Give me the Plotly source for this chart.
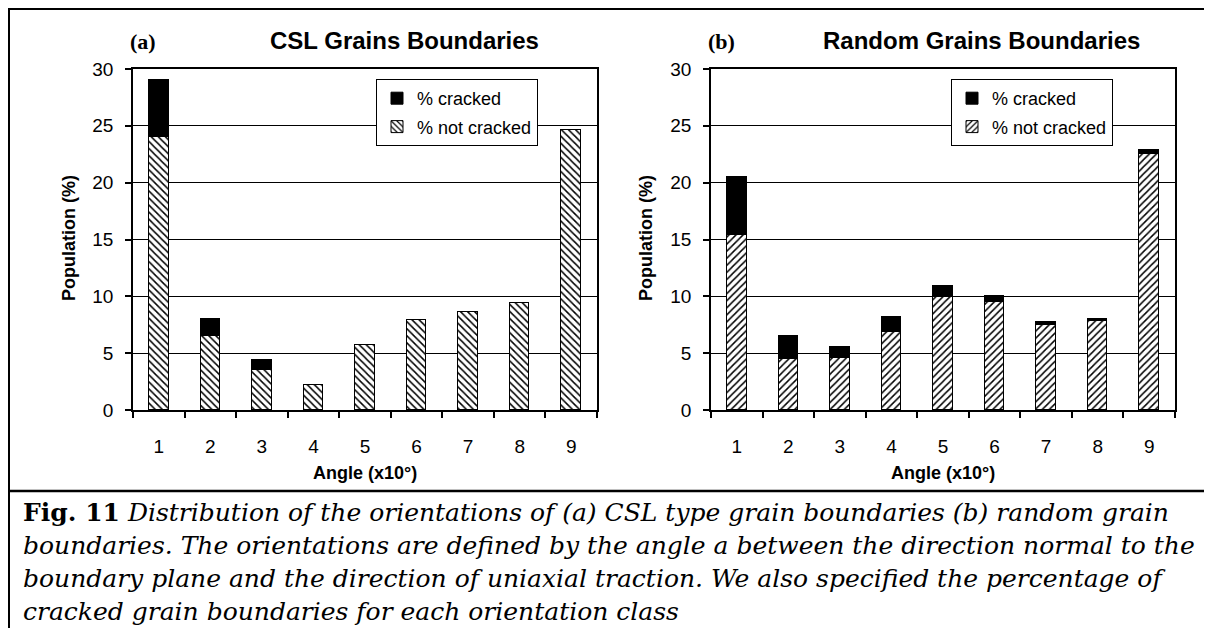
import plotly.graph_objects as go

# The page body has an 8px margin; the figure is sized so it fits the window exactly.
OFF = 8
W, H = 1212 - 2 * OFF, 636 - 2 * OFF

angles = [1, 2, 3, 4, 5, 6, 7, 8, 9]
tick_labels = ["1", "2", "3", "4", "5", "6", "7", "8", "9"]

csl_not_cracked = [24.0, 6.5, 3.5, 2.2, 5.7, 7.9, 8.6, 9.4, 24.6]
csl_cracked = [5.0, 1.5, 0.9, 0.0, 0.0, 0.0, 0.0, 0.0, 0.0]

rand_not_cracked = [15.4, 4.5, 4.6, 6.9, 9.9, 9.5, 7.5, 7.8, 22.5]
rand_cracked = [5.1, 2.0, 0.9, 1.3, 1.0, 0.5, 0.2, 0.2, 0.4]

y_ticks = [0, 5, 10, 15, 20, 25, 30]

def px(x):
    return (x - OFF) / W

def py(y):
    return 1 - (y - OFF) / H

SANS = "Liberation Sans, Arial, sans-serif"
SERIF = "Liberation Serif, Times New Roman, serif"
CAPTION = "DejaVu Serif, serif"

fig = go.Figure()

bar_w = 0.38
line = dict(color="black", width=1)

fig.add_trace(go.Bar(x=angles, y=csl_not_cracked, width=bar_w, name="% not cracked",
                     marker=dict(color="white", line=line,
                                 pattern=dict(shape="\\", fgcolor="black", bgcolor="white",
                                              size=5, solidity=0.3)),
                     xaxis="x", yaxis="y", legend="legend", legendgroup="a2", legendrank=2))
fig.add_trace(go.Bar(x=angles, y=csl_cracked, width=bar_w, name="% cracked",
                     marker=dict(color="black", line=line),
                     xaxis="x", yaxis="y", legend="legend", legendgroup="a1", legendrank=1))

fig.add_trace(go.Bar(x=angles, y=rand_not_cracked, width=bar_w, name="% not cracked",
                     marker=dict(color="white", line=line,
                                 pattern=dict(shape="/", fgcolor="black", bgcolor="white",
                                              size=5, solidity=0.3)),
                     xaxis="x2", yaxis="y2", legend="legend2", legendgroup="b2", legendrank=2))
fig.add_trace(go.Bar(x=angles, y=rand_cracked, width=bar_w, name="% cracked",
                     marker=dict(color="black", line=line),
                     xaxis="x2", yaxis="y2", legend="legend2", legendgroup="b1", legendrank=1))

def xaxis_cfg(x0, x1, anchor):
    return dict(domain=[px(x0), px(x1)], anchor=anchor, range=[0.5, 9.5],
                tickmode="array", tickvals=angles, ticktext=tick_labels,
                ticks="", ticklabelstandoff=18, automargin=False,
                tickfont=dict(family=SANS, size=19, color="black"),
                showline=True, linecolor="black", linewidth=1.5, mirror=True,
                showgrid=False, zeroline=False, fixedrange=True,
                minor=dict(tickmode="array", tickvals=[i + 0.5 for i in range(0, 10)],
                           ticks="outside", ticklen=6, tickwidth=1.5, tickcolor="black",
                           showgrid=False))

def yaxis_cfg(anchor):
    return dict(domain=[py(410), py(69)], anchor=anchor, range=[0, 30],
                tickmode="array", tickvals=y_ticks, automargin=False,
                ticks="outside", ticklen=6, tickwidth=1.5, tickcolor="black",
                ticklabelstandoff=8,
                tickfont=dict(family=SANS, size=19, color="black"),
                showline=True, linecolor="black", linewidth=1.5, mirror=True,
                showgrid=True, gridcolor="black", gridwidth=1,
                zeroline=False, fixedrange=True)

legend_common = dict(bgcolor="white", bordercolor="black", borderwidth=1,
                     font=dict(family=SANS, size=18, color="black"),
                     xanchor="left", yanchor="top", itemwidth=30,
                     tracegroupgap=2, traceorder="grouped")

fig.update_layout(
    template="none",
    width=W, height=H,
    margin=dict(l=0, r=0, t=0, b=0, pad=0, autoexpand=False),
    paper_bgcolor="white", plot_bgcolor="white",
    barmode="stack", bargap=0,
    xaxis=xaxis_cfg(133, 597, "y"),
    yaxis=yaxis_cfg("x"),
    xaxis2=xaxis_cfg(711, 1175, "y2"),
    yaxis2=yaxis_cfg("x2"),
    legend=dict(x=px(376), y=py(79), **legend_common),
    legend2=dict(x=px(951), y=py(79), **legend_common),
    showlegend=True,
)

annotations = []

def ann(text, x, y, size, family, xanchor="center", yanchor="middle", angle=0):
    annotations.append(dict(text=text, x=px(x), y=py(y), xref="paper", yref="paper",
                            showarrow=False, xanchor=xanchor, yanchor=yanchor,
                            textangle=angle, borderpad=0,
                            font=dict(family=family, size=size, color="black")))

ann("<b>(a)</b>", 129, 42, 22, SERIF, xanchor="left")
ann("<b>CSL Grains Boundaries</b>", 404, 40, 24, SANS)
ann("<b>(b)</b>", 707, 42, 22, SERIF, xanchor="left")
ann("<b>Random Grains Boundaries</b>", 981, 40, 24, SANS)

ann("<b>Population (%)</b>", 69, 238, 18, SANS, angle=-90)
ann("<b>Population (%)</b>", 646, 238, 18, SANS, angle=-90)
ann("<b>Angle (x10°)</b>", 365, 473, 18, SANS)
ann("<b>Angle (x10°)</b>", 943, 473, 18, SANS)

caption = [
    "<b>Fig. 11</b> <i>Distribution of the orientations of (a) CSL type grain boundaries (b) random grain</i>",
    "<i>boundaries. The orientations are defined by the angle a between the direction normal to the</i>",
    "<i>boundary plane and the direction of uniaxial traction. We also specified the percentage of</i>",
    "<i>cracked grain boundaries for each orientation class</i>",
]
for i, t in enumerate(caption):
    ann(t, 22, 512 + 33 * i, 25, CAPTION, xanchor="left")

fig.update_layout(annotations=annotations)

shapes = [
    dict(type="line", xref="paper", yref="paper", x0=px(8), x1=px(1212), y0=py(9), y1=py(9),
         line=dict(color="black", width=2)),
    dict(type="line", xref="paper", yref="paper", x0=px(9), x1=px(9), y0=py(8), y1=py(636),
         line=dict(color="black", width=2)),
    dict(type="line", xref="paper", yref="paper", x0=px(8), x1=px(1212), y0=py(491), y1=py(491),
         line=dict(color="black", width=2.5)),
]
fig.update_layout(shapes=shapes)

fig.write_html("out.html")
